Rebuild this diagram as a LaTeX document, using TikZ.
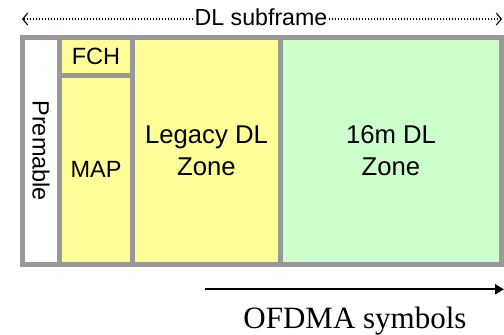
\documentclass[tikz,border=0pt]{standalone}
\usepackage{fontspec}
\setmainfont{Liberation Sans}
\newfontfamily\seriffont{Liberation Serif}
\usetikzlibrary{arrows.meta}
\definecolor{framegray}{HTML}{999999}
\definecolor{cellyellow}{HTML}{FFFF99}
\definecolor{cellgreen}{HTML}{CCFFCC}
\tikzset{
  cell/.style={draw=framegray, line width=5pt, inner sep=0pt, outer sep=0pt,
    align=center, font=\fontsize{23.5}{29}\selectfont},
  zonecell/.style={cell, font=\fontsize{25.7}{32}\selectfont},
  dotarrow/.style={line width=1.1pt, dash pattern=on 1.4pt off 1.6pt,
    -{Straight Barb[length=5pt,width=12pt,line width=1.1pt]}},
  timearrow/.style={line width=2pt, -{Triangle[length=9pt,width=10pt]}}
}
\begin{document}
\begin{tikzpicture}[x=1pt,y=-1pt]
\useasboundingbox (0,0) rectangle (504,335);
% cells
\node[cell, fill=white, minimum width=37pt, minimum height=226.5pt] (pre) at (41,150.75) {};
\node[rotate=-90, font=\fontsize{23.5}{29}\selectfont, inner sep=0pt] (pretext) at (pre.center) {Premable};
\node[cell, fill=cellyellow, minimum width=73pt, minimum height=38pt] (fch) at (96,56.5) {FCH};
\node[cell, fill=cellyellow, minimum width=73pt, minimum height=188.5pt] (map) at (96,169.75) {MAP};
\node[zonecell, fill=cellyellow, minimum width=148pt, minimum height=226.5pt] (legacy) at (206.5,150.75) {Legacy DL\\Zone};
\node[zonecell, fill=cellgreen, minimum width=221pt, minimum height=226.5pt] (m16) at (391,150.75) {16m DL\\Zone};
% DL subframe arrow
\node[font=\fontsize{23.2}{28}\selectfont, inner sep=1pt] (dl) at (261,17.5) {DL subframe};
\coordinate (dlL) at (22,19);
\coordinate (dlR) at (502,19);
\draw[dotarrow] (dlL -| dl.west) -- (dlL);
\draw[dotarrow] (dlR -| dl.east) -- (dlR);
% OFDMA symbols arrow
\coordinate (oa) at (205,289.3);
\coordinate (ob) at (504,289.3);
\draw[timearrow] (oa) -- (ob);
\node[font=\seriffont\fontsize{31}{36}\selectfont, anchor=base, inner sep=0pt] (ofdma) at (355,328.2) {OFDMA symbols};
\end{tikzpicture}
\end{document}
